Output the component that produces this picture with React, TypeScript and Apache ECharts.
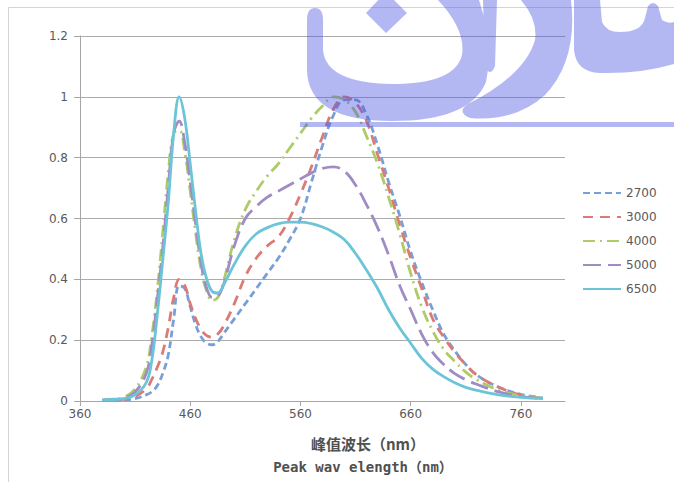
import React, { useEffect, useRef } from "react";
import * as echarts from "echarts";

const wavelengths = [380, 390, 400, 410, 420, 425, 430, 435, 440, 445, 450, 455, 460, 465, 470, 475, 480, 485, 490, 500, 510, 520, 530, 540, 550, 560, 570, 580, 590, 600, 610, 620, 630, 640, 650, 660, 670, 680, 690, 700, 710, 720, 740, 760, 780];

const s2700 = [0.001, 0.002, 0.004, 0.008, 0.02, 0.03, 0.05, 0.09, 0.15, 0.27, 0.38, 0.37, 0.31, 0.25, 0.21, 0.19, 0.185, 0.195, 0.22, 0.27, 0.32, 0.37, 0.42, 0.47, 0.53, 0.6, 0.72, 0.84, 0.94, 0.99, 0.99, 0.94, 0.84, 0.72, 0.61, 0.49, 0.39, 0.3, 0.22, 0.165, 0.12, 0.085, 0.045, 0.022, 0.01];
const s3000 = [0.002, 0.003, 0.006, 0.015, 0.04, 0.07, 0.11, 0.16, 0.24, 0.34, 0.4, 0.38, 0.32, 0.27, 0.235, 0.215, 0.21, 0.22, 0.245, 0.32, 0.41, 0.47, 0.51, 0.54, 0.6, 0.68, 0.77, 0.87, 0.96, 1.0, 0.98, 0.92, 0.81, 0.7, 0.58, 0.47, 0.37, 0.27, 0.21, 0.16, 0.12, 0.085, 0.045, 0.02, 0.01];
const s4000 = [0.003, 0.006, 0.012, 0.04, 0.11, 0.21, 0.36, 0.55, 0.75, 0.88, 0.89, 0.82, 0.69, 0.55, 0.43, 0.36, 0.33, 0.34, 0.39, 0.53, 0.63, 0.69, 0.74, 0.78, 0.83, 0.88, 0.93, 0.97, 1.0, 0.99, 0.95, 0.87, 0.78, 0.67, 0.55, 0.42, 0.31, 0.23, 0.17, 0.13, 0.095, 0.07, 0.035, 0.018, 0.01];
const s5000 = [0.003, 0.005, 0.01, 0.03, 0.09, 0.18, 0.33, 0.5, 0.7, 0.88, 0.92, 0.85, 0.72, 0.58, 0.45, 0.37, 0.34, 0.345, 0.38, 0.51, 0.6, 0.64, 0.67, 0.69, 0.71, 0.73, 0.75, 0.765, 0.77, 0.755, 0.71, 0.645, 0.57, 0.48, 0.38, 0.3, 0.22, 0.16, 0.12, 0.09, 0.07, 0.055, 0.03, 0.015, 0.008];
const s6500 = [0.003, 0.005, 0.008, 0.02, 0.06, 0.13, 0.28, 0.46, 0.65, 0.88, 1.0, 0.93, 0.78, 0.62, 0.48, 0.4, 0.36, 0.355, 0.38, 0.45, 0.51, 0.55, 0.57, 0.583, 0.588, 0.588, 0.583, 0.572, 0.555, 0.53, 0.485, 0.43, 0.37, 0.3, 0.24, 0.19, 0.14, 0.105, 0.08, 0.06, 0.045, 0.035, 0.02, 0.012, 0.008];

const seriesNames = ["2700", "3000", "4000", "5000", "6500"];
const seriesValues = [s2700, s3000, s4000, s5000, s6500];
const seriesColors = ["#78a0d8", "#dc7a76", "#aecb67", "#a08cc4", "#6cc4d8"];
const seriesDash: any[] = [[7, 4], [10, 7], [12, 5, 2, 5], [18, 7], "solid"];

const xTicks = [360, 460, 560, 660, 760];

const watermarkPath =
  "M 300 122 L 674 122 L 674 127 L 300 127 Z " +
  "M 307 20 Q 307 8 315 8 Q 323 8 323 20 L 323 50 Q 326 83 392 84 Q 455 84 462 55 Q 466 30 438 0 L 479 0 Q 494 45 486 82 Q 470 121 392 121 Q 308 121 307 70 Z " +
  "M 386 -8 L 407 13 L 386 33 L 366 13 Z " +
  "M 483 0 L 497 0 L 495 66 Q 490 78 485 66 Z " +
  "M 521 0 L 571 0 Q 578 60 545 95 Q 515 122 470 118 Q 456 112 468 104 Q 525 75 535 40 Q 538 20 521 0 Z " +
  "M 574 0 L 600 0 L 602 22 Q 606 32 620 32 Q 642 32 645 18 L 648 6 Q 653 0 658 6 L 662 20 Q 668 24 674 22 L 674 64 Q 640 74 600 73 Q 576 72 574 50 Z";

let registered = false;

export default function App() {
  const ref = useRef<HTMLDivElement>(null);
  useEffect(() => {
    if (!ref.current) return;
    if (!registered) {
      echarts.graphic.registerShape("watermark", echarts.graphic.extendPath(watermarkPath, {}));
      registered = true;
    }
    const chart = echarts.init(ref.current, undefined, { renderer: "svg" });
    const series = seriesNames.map((name, i) => ({
      name,
      type: "line",
      data: wavelengths.map((w, j) => [w, seriesValues[i][j]]),
      smooth: 0.4,
      showSymbol: false,
      symbol: "none",
      itemStyle: { color: seriesColors[i] },
      lineStyle: { color: seriesColors[i], width: 2.8, type: seriesDash[i] },
      z: 2 + (i === 4 ? 1 : 0),
    }));
    chart.setOption({
      animation: false,
      grid: { left: 80, right: 109, top: 36, bottom: 81 },
      xAxis: {
        type: "value",
        min: 360,
        max: 800,
        axisLine: { show: true, lineStyle: { color: "#a6a6a6", width: 1 } },
        axisTick: { show: true, length: 5, lineStyle: { color: "#a6a6a6" }, customValues: xTicks },
        axisLabel: { customValues: xTicks, color: "#595959", fontSize: 12, fontFamily: "DejaVu Sans", margin: 7 },
        splitLine: { show: false },
      },
      yAxis: {
        type: "value",
        min: 0,
        max: 1.2,
        interval: 0.2,
        axisLine: { show: true, lineStyle: { color: "#a6a6a6", width: 1 } },
        axisTick: { show: true, length: 6, lineStyle: { color: "#a6a6a6" } },
        axisLabel: { color: "#595959", fontSize: 12, fontFamily: "DejaVu Sans", margin: 12 },
        splitLine: { show: true, lineStyle: { color: "#ababab", width: 1 } },
      },
      legend: {
        orient: "vertical",
        left: 582,
        top: 187,
        itemWidth: 38,
        itemHeight: 14,
        itemGap: 12,
        padding: 0,
        itemStyle: { opacity: 0 },
        textStyle: { color: "#595959", fontSize: 12, fontFamily: "DejaVu Sans" },
        data: seriesNames,
      },
      graphic: [
        {
          type: "rect",
          shape: { x: 8.5, y: 7.5, width: 700, height: 500 },
          style: { fill: "none", stroke: "#d4d4d4", lineWidth: 1 },
          silent: true,
          z: 0,
        },
        {
          type: "text",
          style: {
            text: "峰值波长（nm）",
            x: 368,
            y: 443,
            align: "center",
            verticalAlign: "middle",
            fill: "#505050",
            font: "bold 15px 'Noto Sans CJK SC'",
          },
        },
        {
          type: "text",
          style: {
            text: "Peak wav elength（nm）",
            x: 363,
            y: 467,
            align: "center",
            verticalAlign: "middle",
            fill: "#505050",
            font: "bold 14px 'DejaVu Sans Mono', 'Noto Sans CJK SC'",
          },
        },
        {
          type: "watermark",
          x: 0,
          y: 0,
          silent: true,
          z: 100,
          style: { fill: "rgba(74,85,224,0.42)" },
        },
      ],
      series,
    });
    return () => chart.dispose();
  }, []);
  return <div ref={ref} style={{ position: "absolute", left: 0, top: 0, width: 674, height: 482 }} />;
}
